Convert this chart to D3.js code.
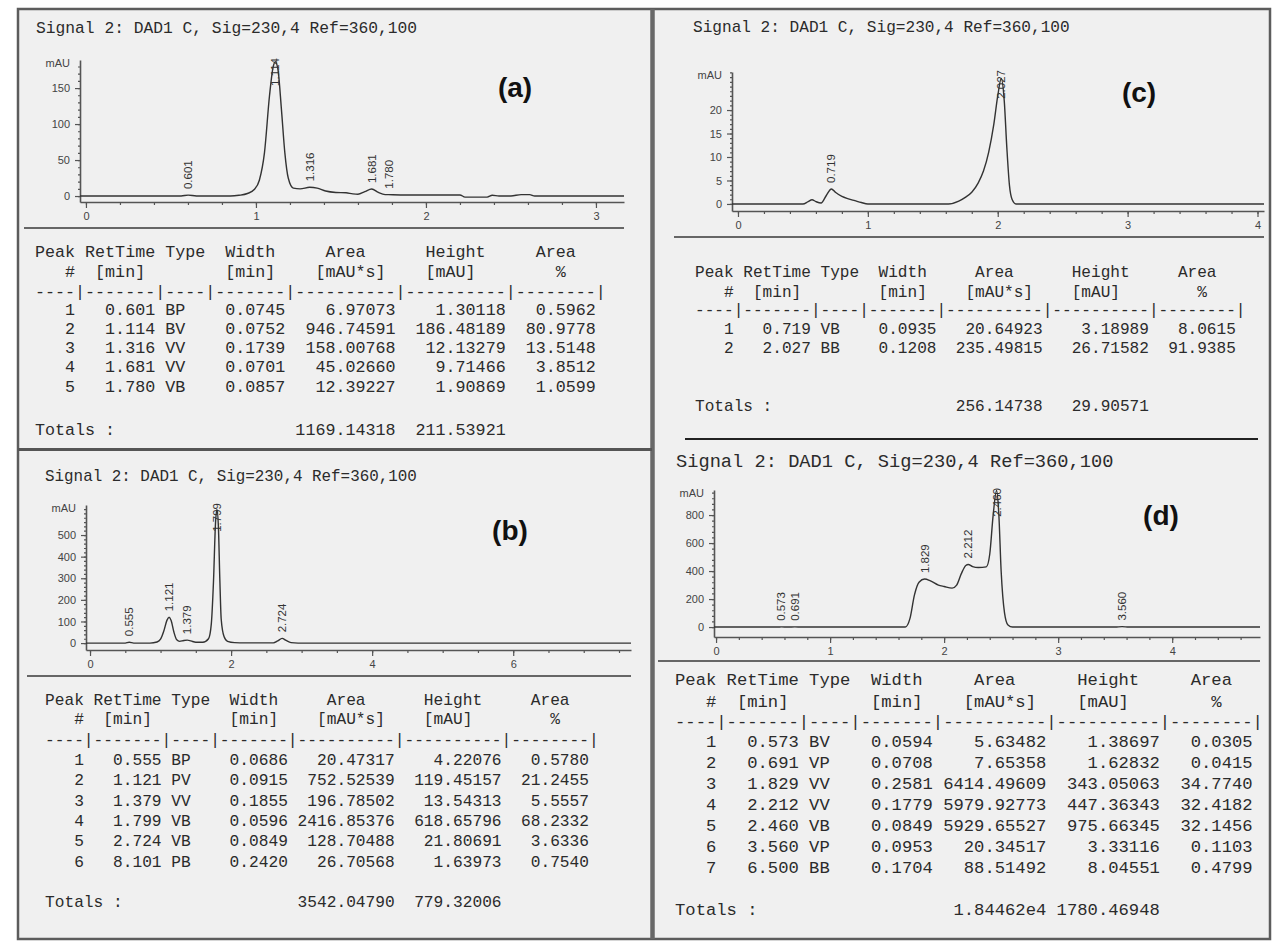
<!DOCTYPE html>
<html>
<head>
<meta charset="utf-8">
<script src="https://cdn.jsdelivr.net/npm/d3@7"></script>
<style>
body { margin: 0; background: #ffffff; }
svg text { font-family: "Liberation Sans", Arial, sans-serif; }
.mono { font-family: "Liberation Mono", "Courier New", monospace; white-space: pre; fill: #2b2b2b; }
</style>
</head>
<body>
<svg id="fig" width="1280" height="941"></svg>
<script>
const titleText = "Signal 2: DAD1 C, Sig=230,4 Ref=360,100";

// (a)
const aRetTime = [0.601, 1.114, 1.316, 1.681, 1.780];
const aType = ["BP", "BV", "VV", "VV", "VB"];
const aWidth = [0.0745, 0.0752, 0.1739, 0.0701, 0.0857];
const aArea = [6.97073, 946.74591, 158.00768, 45.02660, 12.39227];
const aHeight = [1.30118, 186.48189, 12.13279, 9.71466, 1.90869];
const aAreaPct = [0.5962, 80.9778, 13.5148, 3.8512, 1.0599];
const aTotals = ["1169.14318", "211.53921"];
const aXTicks = [0, 1, 2, 3];
const aYTicks = [0, 50, 100, 150];
const aTrace = [[-0.035,0],[0.56,0],[0.601,1.3],[0.65,0],[0.85,0],[0.9,1],[0.95,3.5],[0.99,9],[1.02,22],
  [1.05,60],[1.08,140],[1.1,178],[1.114,186.5],[1.13,175],[1.15,120],[1.17,60],[1.19,25],[1.22,11],
  [1.26,10],[1.316,12.1],[1.36,11],[1.41,7],[1.47,5],[1.53,4.5],[1.57,3],[1.6,2.5],[1.64,6],[1.681,9.7],
  [1.72,5],[1.76,2],[1.78,1.9],[1.85,1.5],[2.0,1.5],[2.2,1.5],[2.23,-1.5],[2.36,-1.5],[2.39,1],[2.43,0],
  [2.5,0],[2.56,2],[2.61,2],[2.64,0],[3.165,0]];

// (b)
const bRetTime = [0.555, 1.121, 1.379, 1.799, 2.724, 8.101];
const bType = ["BP", "PV", "VV", "VB", "VB", "PB"];
const bWidth = [0.0686, 0.0915, 0.1855, 0.0596, 0.0849, 0.2420];
const bArea = [20.47317, 752.52539, 196.78502, 2416.85376, 128.70488, 26.70568];
const bHeight = [4.22076, 119.45157, 13.54313, 618.65796, 21.80691, 1.63973];
const bAreaPct = [0.5780, 21.2455, 5.5557, 68.2332, 3.6336, 0.7540];
const bTotals = ["3542.04790", "779.32006"];
const bXTicks = [0, 2, 4, 6];
const bYTicks = [0, 100, 200, 300, 400, 500];
const bTrace = [[-0.057,0],[0.5,0],[0.555,4.2],[0.62,0],[0.85,0],[0.95,5],[1.0,18],[1.05,60],[1.09,105],
  [1.121,119.5],[1.15,105],[1.19,50],[1.23,15],[1.27,8],[1.33,12],[1.379,13.5],[1.43,10],[1.5,4],[1.6,4],
  [1.68,20],[1.72,90],[1.75,280],[1.78,560],[1.799,618.7],[1.82,540],[1.84,300],[1.86,110],[1.9,30],
  [1.95,8],[2.05,2],[2.2,1],[2.6,1],[2.66,10],[2.724,21.8],[2.78,12],[2.85,2],[2.95,0],[7.67,0]];

// (c)
const cRetTime = [0.719, 2.027];
const cType = ["VB", "BB"];
const cWidth = [0.0935, 0.1208];
const cArea = [20.64923, 235.49815];
const cHeight = [3.18989, 26.71582];
const cAreaPct = [8.0615, 91.9385];
const cTotals = ["256.14738", "29.90571"];
const cXTicks = [0, 1, 2, 3, 4];
const cYTicks = [0, 5, 10, 15, 20];
const cTrace = [[-0.046,0],[0.5,0],[0.54,0.5],[0.57,0.9],[0.6,0.5],[0.64,0.2],[0.68,1.8],[0.719,3.2],
  [0.75,2.5],[0.8,1.6],[0.85,1.1],[0.9,0.7],[0.95,0.3],[1.0,0],[1.62,0],[1.7,0.6],[1.75,1.4],[1.8,2.5],
  [1.85,4.5],[1.89,7],[1.93,11],[1.97,17],[2.0,23],[2.027,26.7],[2.05,22],[2.07,12],[2.09,4],[2.11,1],
  [2.14,0],[4.05,0]];

// (d)
const dRetTime = [0.573, 0.691, 1.829, 2.212, 2.460, 3.560, 6.500];
const dType = ["BV", "VP", "VV", "VV", "VB", "VP", "BB"];
const dWidth = [0.0594, 0.0708, 0.2581, 0.1779, 0.0849, 0.0953, 0.1704];
const dArea = [5.63482, 7.65358, 6414.49609, 5979.92773, 5929.65527, 20.34517, 88.51492];
const dHeight = [1.38697, 1.62832, 343.05063, 447.36343, 975.66345, 3.33116, 8.04551];
const dAreaPct = [0.0305, 0.0415, 34.7740, 32.4182, 32.1456, 0.1103, 0.4799];
const dTotals = ["1.84462e4", "1780.46948"];
const dXTicks = [0, 1, 2, 3, 4];
const dYTicks = [0, 200, 400, 600, 800];
const dTrace = [[-0.018,0],[0.54,0],[0.573,1.4],[0.63,0.3],[0.691,1.6],[0.75,0],[1.66,0],[1.7,60],
  [1.74,230],[1.78,320],[1.829,343],[1.88,330],[1.95,300],[2.0,290],[2.07,278],[2.11,300],[2.15,380],
  [2.19,440],[2.212,447],[2.25,432],[2.3,425],[2.37,430],[2.4,520],[2.43,800],[2.46,975],[2.48,800],
  [2.5,400],[2.53,100],[2.56,15],[2.6,0],[3.5,0],[3.56,3.3],[3.62,0],[4.77,0]];

// ---- layout (pixel positions of each report block) ----
const panels = [
  { label: "(a)", rt: aRetTime, type: aType, width: aWidth, area: aArea, height: aHeight, pct: aAreaPct,
    totals: aTotals, xTicks: aXTicks, yTicks: aYTicks, trace: aTrace,
    xDom: [-0.035, 3.165], xRange: [80, 624], yDom: [-8.3, 189], yRange: [202, 60], xMinor: 0.2, yMinor: 10,
    title: [36, 28, 16.3], labelPos: [515, 87], sep: [24, 624, 228],
    table: { x: 35, size: 16.7, h1: 252, h2: 272, dash: 292, row0: 310, step: 19.3, tot: 430 } },
  { label: "(b)", rt: bRetTime, type: bType, width: bWidth, area: bArea, height: bHeight, pct: bAreaPct,
    totals: bTotals, xTicks: bXTicks, yTicks: bYTicks, trace: bTrace,
    xDom: [-0.057, 7.67], xRange: [86, 631], yDom: [-32, 639], yRange: [650, 505], xMinor: 0.5, yMinor: 20,
    title: [45, 477, 15.9], labelPos: [510, 530], sep: [27, 631, 676],
    table: { x: 45, size: 16.2, h1: 701, h2: 720, dash: 741, row0: 761, step: 20.3, tot: 903 } },
  { label: "(c)", rt: cRetTime, type: cType, width: cWidth, area: cArea, height: cHeight, pct: cAreaPct,
    totals: cTotals, xTicks: cXTicks, yTicks: cYTicks, trace: cTrace,
    xDom: [-0.046, 4.05], xRange: [732, 1264], yDom: [-1.5, 28.1], yRange: [211, 72], xMinor: 0.2, yMinor: 1,
    title: [693, 28, 16.1], labelPos: [1139, 92], sep: [674, 1264, 237],
    table: { x: 695, size: 16.1, h1: 273, h2: 293, dash: 311, row0: 330, step: 19, tot: 407 } },
  { label: "(d)", rt: dRetTime, type: dType, width: dWidth, area: dArea, height: dHeight, pct: dAreaPct,
    totals: dTotals, xTicks: dXTicks, yTicks: dYTicks, trace: dTrace,
    xDom: [-0.018, 4.77], xRange: [714, 1260], yDom: [-71, 979], yRange: [637, 490], xMinor: 0.2, yMinor: 40,
    title: [676, 462, 18.7], labelPos: [1161, 515], sep: [658, 1260, 661],
    table: { x: 675, size: 17.2, h1: 680, h2: 702, dash: 722, row0: 742, step: 21.1, tot: 910 } }
];

const svg = d3.select("#fig");

// outer frame and dividers
svg.append("rect").attr("x", 18).attr("y", 9).attr("width", 1252).attr("height", 930)
  .attr("fill", "#f0f0f0").attr("stroke", "#5c5c5c").attr("stroke-width", 2.5);
svg.append("line").attr("x1", 652.5).attr("x2", 652.5).attr("y1", 9).attr("y2", 939)
  .attr("stroke", "#686868").attr("stroke-width", 4.5);
svg.append("line").attr("x1", 18).attr("x2", 652).attr("y1", 449.5).attr("y2", 449.5)
  .attr("stroke", "#555").attr("stroke-width", 3);
svg.append("line").attr("x1", 685).attr("x2", 1258).attr("y1", 439).attr("y2", 439)
  .attr("stroke", "#222").attr("stroke-width", 2);

function lpad(s, n) {
  s = String(s);
  return s.length >= n ? s : " ".repeat(n - s.length) + s;
}

const head1 = "Peak" + " " + "RetTime" + " " + "Type" + "  " + "Width" + " ".repeat(5) + "Area" +
  " ".repeat(6) + "Height" + " ".repeat(5) + "Area";
const head2 = "   #" + "  " + "[min]" + " ".repeat(8) + "[min]" + " ".repeat(4) + "[mAU*s]" +
  " ".repeat(4) + "[mAU]" + " ".repeat(8) + "%";
const dashes = "----|-------|----|-------|----------|----------|--------|";

function drawPanel(p) {
  const g = svg.append("g");
  const x = d3.scaleLinear().domain(p.xDom).range(p.xRange);
  const y = d3.scaleLinear().domain(p.yDom).range(p.yRange);
  const axisY = p.yRange[0], axisX = p.xRange[0], topY = p.yRange[1];

  g.append("text").attr("class", "mono")
    .attr("x", p.title[0]).attr("y", p.title[1])
    .attr("dominant-baseline", "central")
    .style("font-size", p.title[2] + "px")
    .text(titleText);

  // x axis: minor then major ticks
  g.append("g").attr("transform", `translate(0,${axisY})`)
    .call(d3.axisBottom(x).tickValues(d3.range(0, p.xDom[1], p.xMinor)).tickSize(3).tickFormat(""))
    .call(s => s.select(".domain").remove());
  const xa = g.append("g").attr("transform", `translate(0,${axisY})`)
    .call(d3.axisBottom(x).tickValues(p.xTicks).tickSize(6).tickSizeOuter(0).tickPadding(4)
      .tickFormat(d3.format("d")));

  // y axis
  g.append("g").attr("transform", `translate(${axisX},0)`)
    .call(d3.axisLeft(y).tickValues(d3.range(0, p.yDom[1], p.yMinor)).tickSize(2).tickFormat(""))
    .call(s => s.select(".domain").remove());
  const ya = g.append("g").attr("transform", `translate(${axisX},0)`)
    .call(d3.axisLeft(y).tickValues(p.yTicks).tickSize(5).tickSizeOuter(0).tickPadding(5));

  g.selectAll(".tick line").attr("stroke", "#555").attr("stroke-width", 1.2);
  g.selectAll(".domain").attr("stroke", "#555").attr("stroke-width", 1.6);
  g.selectAll(".tick text").attr("fill", "#444").attr("font-size", 11)
    .attr("font-family", "'Liberation Sans', Arial, sans-serif");

  g.append("text").attr("x", axisX - 10).attr("y", topY + 7)
    .attr("text-anchor", "end").attr("font-size", 11).attr("fill", "#444").text("mAU");

  // signal trace
  const line = d3.line().x(d => x(d[0])).y(d => y(d[1])).curve(d3.curveMonotoneX);
  g.append("path").datum(p.trace).attr("d", line)
    .attr("fill", "none").attr("stroke", "#333").attr("stroke-width", 1.4);

  // retention time labels above each visible peak
  p.rt.forEach((rt, i) => {
    if (rt > p.xDom[1]) return;
    const t = g.append("text").attr("font-size", 11.5).attr("fill", "#333").text(rt.toFixed(3));
    const len = t.node().getComputedTextLength();
    const by = Math.max(y(p.height[i]) - 6, topY - 2 + len);
    t.attr("transform", `translate(${x(rt) + 4},${by}) rotate(-90)`);
  });

  g.append("text").attr("x", p.labelPos[0]).attr("y", p.labelPos[1])
    .attr("text-anchor", "middle").attr("dominant-baseline", "central")
    .attr("font-family", "Lato, 'Open Sans', sans-serif").attr("font-weight", 700)
    .attr("font-size", 28).attr("fill", "#111").text(p.label);

  g.append("line").attr("x1", p.sep[0]).attr("x2", p.sep[1]).attr("y1", p.sep[2]).attr("y2", p.sep[2])
    .attr("stroke", "#666").attr("stroke-width", 2);

  // peak table
  const tb = p.table;
  const lines = [[head1, tb.h1], [head2, tb.h2], [dashes, tb.dash]];
  p.rt.forEach((rt, i) => {
    const row = lpad(i + 1, 4) + " " + lpad(rt.toFixed(3), 7) + " " + p.type[i] +
      lpad(p.width[i].toFixed(4), 10) + lpad(p.area[i].toFixed(5), 11) +
      lpad(p.height[i].toFixed(5), 11) + lpad(p.pct[i].toFixed(4), 9);
    lines.push([row, tb.row0 + i * tb.step]);
  });
  lines.push(["Totals :" + lpad(p.totals[0], 28) + lpad(p.totals[1], 11), tb.tot]);

  g.selectAll(".row").data(lines).join("text")
    .attr("class", "mono row")
    .attr("x", tb.x).attr("y", d => d[1])
    .attr("dominant-baseline", "central")
    .style("font-size", tb.size + "px")
    .text(d => d[0]);
}

panels.forEach(drawPanel);
</script>
</body>
</html>
